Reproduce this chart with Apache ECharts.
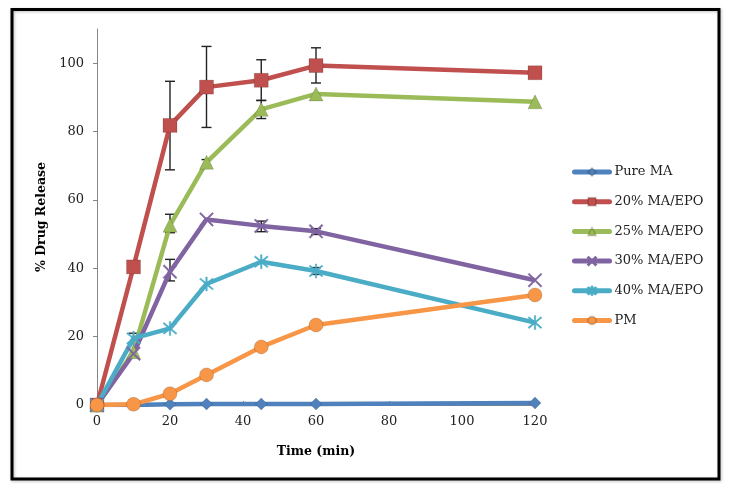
<!DOCTYPE html>
<html><head><meta charset="utf-8">
<script src="https://cdn.jsdelivr.net/npm/echarts@6/dist/echarts.min.js"></script>
<style>html,body{margin:0;padding:0;background:#fff}#c{width:730px;height:492px}</style>
</head><body><div id="c"></div>
<script>
const times = [0, 10, 20, 30, 45, 60, 120];
const seriesNames = ['Pure MA', '20% MA/EPO', '25% MA/EPO', '30% MA/EPO', '40% MA/EPO', 'PM'];
const pureMA = [0, 0, 0.2, 0.3, 0.3, 0.3, 0.6];
const ma20 = [0, 40.4, 81.8, 93, 95, 99.3, 97.2];
const ma25 = [0, 15.6, 52.6, 71, 86.5, 91, 88.7];
const ma30 = [0, 15, 39, 54.3, 52.4, 50.8, 36.5];
const ma40 = [0, 19.5, 22.4, 35.4, 41.9, 39.2, 24.1];
const pm = [0, 0.2, 3.3, 8.8, 17.0, 23.4, 32.2];
// error bars: [time, low, high]
const err20 = [[20, 68.8, 94.7], [30, 81.2, 104.9], [45, 89.1, 101], [60, 94.2, 104.5]];
const err25 = [[20, 50.4, 55.8], [30, 69.8, 71.8], [45, 83.8, 89.1]];
const err30 = [[20, 36.3, 42.6], [45, 50.7, 53.8], [60, 49.9, 51.6]];
const err40 = [[10, 18, 21], [60, 38.2, 40.2]];
const yTicks = [0, 20, 40, 60, 80, 100];

const colors = ['#4F81BD', '#C0504D', '#9BBB59', '#8064A2', '#4BACC6', '#F79646'];
const xPath = 'path://M0,0.8L0.8,0L5,4.2L9.2,0L10,0.8L5.8,5L10,9.2L9.2,10L5,5.8L0.8,10L0,9.2L4.2,5Z';
const starPath = 'path://M0,0.8L0.8,0L5,4.2L9.2,0L10,0.8L5.8,5L10,9.2L9.2,10L5,5.8L0.8,10L0,9.2L4.2,5Z M4.5,-1L5.5,-1L5.5,11L4.5,11Z';
const symbols = ['diamond', 'rect', 'triangle', xPath, starPath, 'circle'];
const sizes = [12, 14, 14, 14, 14, 14];
const values = [pureMA, ma20, ma25, ma30, ma40, pm];
const errs = [null, err20, err25, err30, err40, null];
const font = 'DejaVu Serif';

const series = [];
values.forEach((v, i) => {
  series.push({
    name: seriesNames[i], type: 'line', z: 3,
    data: times.map((t, k) => [t, v[k]]),
    symbol: symbols[i], symbolSize: sizes[i], showAllSymbol: true,
    lineStyle: { width: 4.5, color: colors[i] },
    itemStyle: { color: colors[i], borderColor: (i === 3 || i === 4) ? colors[i] : 'rgba(0,0,0,0.15)', borderWidth: (i === 3 || i === 4) ? 0.5 : 1 },
    emphasis: { disabled: true }, animation: false
  });
});
errs.forEach((e, i) => {
  if (!e) return;
  series.push({
    type: 'custom', name: 'err' + i, z: 2, animation: false, silent: true,
    data: e, encode: { x: 0, y: [1, 2] },
    renderItem: function (params, api) {
      const x = api.value(0), lo = api.value(1), hi = api.value(2);
      const p1 = api.coord([x, lo]), p2 = api.coord([x, hi]);
      const w = 5;
      const st = { stroke: '#222', lineWidth: 1.4 };
      return { type: 'group', children: [
        { type: 'line', shape: { x1: p1[0], y1: p1[1], x2: p2[0], y2: p2[1] }, style: st },
        { type: 'line', shape: { x1: p1[0] - w, y1: p1[1], x2: p1[0] + w, y2: p1[1] }, style: st },
        { type: 'line', shape: { x1: p2[0] - w, y1: p2[1], x2: p2[0] + w, y2: p2[1] }, style: st }
      ] };
    }
  });
});

const chart = echarts.init(document.getElementById('c'), null, { renderer: 'canvas' });
chart.setOption({
  animation: false,
  backgroundColor: '#fff',
  graphic: [{ type: 'rect', shape: { x: 12, y: 9.5, width: 707, height: 469.5 }, style: { fill: 'none', stroke: '#000', lineWidth: 3, shadowColor: 'rgba(0,0,0,0.25)', shadowBlur: 3, shadowOffsetX: 1, shadowOffsetY: 1 }, z: 0 }],
  grid: { left: 97, top: 29, width: 438, height: 376 },
  xAxis: {
    type: 'value', min: 0, max: 120, interval: 20,
    name: 'Time (min)', nameLocation: 'middle', nameGap: 40,
    nameTextStyle: { fontFamily: font, fontWeight: 'bold', fontSize: 12.5, color: '#000' },
    axisLine: { show: true, lineStyle: { color: '#868686', width: 1 } },
    axisTick: { show: true, inside: true, length: 4, lineStyle: { color: '#868686' } },
    axisLabel: { fontFamily: font, fontSize: 13, color: '#222', margin: 10 },
    splitLine: { show: false }
  },
  yAxis: {
    type: 'value', min: 0, max: 110, interval: 20,
    name: '% Drug Release', nameLocation: 'middle', nameGap: 48, nameRotate: 90,
    nameTextStyle: { fontFamily: font, fontWeight: 'bold', fontSize: 12.5, color: '#000' },
    axisLine: { show: true, lineStyle: { color: '#868686', width: 1 } },
    axisTick: { show: true, length: 4, customValues: yTicks, lineStyle: { color: '#868686' } },
    axisLabel: { fontFamily: font, fontSize: 13, color: '#222', margin: 13, customValues: yTicks },
    splitLine: { show: false }
  },
  legend: {
    data: seriesNames, orient: 'vertical', left: 567, top: 160,
    itemWidth: 35, itemHeight: 10, itemGap: 15.7,
    lineStyle: { width: 5, cap: 'round' },
    textStyle: { fontFamily: font, fontSize: 13, lineHeight: 14, color: '#222' }
  },
  series: series
});
</script></body></html>
